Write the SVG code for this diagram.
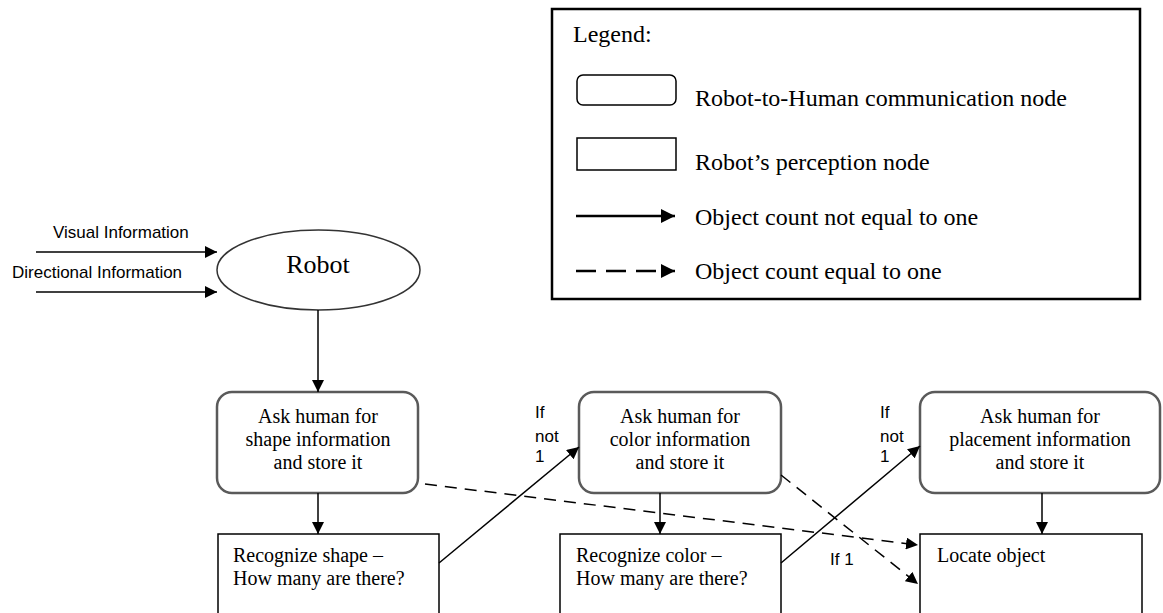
<svg xmlns="http://www.w3.org/2000/svg" width="1163" height="613" viewBox="0 0 1163 613">
  <style>
    .serif { font-family: "Liberation Serif", "Times New Roman", serif; fill: #000; }
    .sans { font-family: "Liberation Sans", Arial, sans-serif; font-size: 17px; fill: #000; }
    .node-text { font-size: 20px; text-anchor: middle; }
    .box-text { font-size: 20px; }
    .legend-text { font-size: 24px; }
    .comm { fill: #fff; stroke: #5a5a5a; stroke-width: 2.5; }
    .percep { fill: #fff; stroke: #000; stroke-width: 1.5; }
    .conn { fill: none; stroke: #000; stroke-width: 1.5; marker-end: url(#arrow); }
    .dashed { stroke-dasharray: 12 8; }
  </style>
  <defs>
    <marker id="arrow" markerUnits="userSpaceOnUse" markerWidth="12" markerHeight="12" refX="12" refY="6" orient="auto">
      <path d="M0,0 L12,6 L0,12 Z" fill="#000"/>
    </marker>
    <marker id="arrow-lg" markerUnits="userSpaceOnUse" markerWidth="14" markerHeight="14" refX="14" refY="7" orient="auto">
      <path d="M0,0 L14,7 L0,14 Z" fill="#000"/>
    </marker>
  </defs>

  <rect width="1163" height="613" fill="#fff"/>

  <!-- Legend -->
  <g id="legend">
    <rect x="552" y="9" width="588" height="290" fill="#fff" stroke="#000" stroke-width="2.5"/>
    <text class="serif legend-text" x="573" y="42">Legend:</text>
    <rect x="577" y="75" width="99" height="30" rx="6" fill="#fff" stroke="#000" stroke-width="1.5"/>
    <text class="serif legend-text" x="695" y="106">Robot-to-Human communication node</text>
    <rect x="577" y="138" width="99" height="32" fill="#fff" stroke="#000" stroke-width="1.5"/>
    <text class="serif legend-text" x="695" y="170">Robot’s perception node</text>
    <line x1="576" y1="216" x2="675" y2="216" stroke="#000" stroke-width="2.5" marker-end="url(#arrow-lg)"/>
    <text class="serif legend-text" x="695" y="225">Object count not equal to one</text>
    <line x1="576" y1="271" x2="675" y2="271" stroke="#000" stroke-width="2.5" stroke-dasharray="20 10" marker-end="url(#arrow-lg)"/>
    <text class="serif legend-text" x="695" y="279">Object count equal to one</text>
  </g>

  <!-- Inputs -->
  <g id="inputs">
    <text class="sans" x="53" y="238">Visual Information</text>
    <text class="sans" x="12" y="278">Directional Information</text>
  </g>

  <!-- Robot -->
  <g id="robot">
    <ellipse cx="318.5" cy="270" rx="101.5" ry="40" fill="#fff" stroke="#333" stroke-width="1.5"/>
    <text class="serif" x="318" y="273" font-size="26" text-anchor="middle">Robot</text>
  </g>

  <!-- Communication nodes -->
  <g id="ask-shape">
    <rect class="comm" x="217" y="392" width="201" height="101" rx="15"/>
    <text class="serif node-text" x="318" y="423">Ask human for</text>
    <text class="serif node-text" x="318" y="446">shape information</text>
    <text class="serif node-text" x="318" y="469">and store it</text>
  </g>
  <g id="ask-color">
    <rect class="comm" x="579" y="392" width="202" height="101" rx="15"/>
    <text class="serif node-text" x="680" y="423">Ask human for</text>
    <text class="serif node-text" x="680" y="446">color information</text>
    <text class="serif node-text" x="680" y="469">and store it</text>
  </g>
  <g id="ask-placement">
    <rect class="comm" x="920" y="392" width="240" height="101" rx="15"/>
    <text class="serif node-text" x="1040" y="423">Ask human for</text>
    <text class="serif node-text" x="1040" y="446">placement information</text>
    <text class="serif node-text" x="1040" y="469">and store it</text>
  </g>

  <!-- Perception nodes -->
  <g id="recognize-shape">
    <rect class="percep" x="218" y="534" width="221" height="110"/>
    <text class="serif box-text" x="233" y="562">Recognize shape –</text>
    <text class="serif box-text" x="233" y="585">How many are there?</text>
  </g>
  <g id="recognize-color">
    <rect class="percep" x="560" y="534" width="221" height="110"/>
    <text class="serif box-text" x="576" y="562">Recognize color –</text>
    <text class="serif box-text" x="576" y="585">How many are there?</text>
  </g>
  <g id="locate-object">
    <rect class="percep" x="920" y="534" width="222" height="110"/>
    <text class="serif box-text" x="937" y="562">Locate object</text>
  </g>

  <!-- Connectors -->
  <g id="connectors">
    <line class="conn" x1="36" y1="252" x2="217" y2="252"/>
    <line class="conn" x1="36" y1="292" x2="217" y2="292"/>
    <line class="conn" x1="318" y1="310" x2="318" y2="392"/>
    <line class="conn" x1="318" y1="493" x2="318" y2="534"/>
    <line class="conn" x1="439" y1="563" x2="579" y2="447"/>
    <line class="conn dashed" x1="425" y1="484" x2="918" y2="545"/>
    <line class="conn" x1="660" y1="493" x2="660" y2="534"/>
    <line class="conn" x1="781" y1="563" x2="920" y2="446"/>
    <line class="conn dashed" x1="781" y1="475" x2="918" y2="584"/>
    <line class="conn" x1="1042" y1="493" x2="1042" y2="534"/>
  </g>

  <!-- Branch labels -->
  <g id="labels">
    <text class="sans" x="535" y="418">If</text>
    <text class="sans" x="535" y="442">not</text>
    <text class="sans" x="535" y="462">1</text>
    <text class="sans" x="880" y="418">If</text>
    <text class="sans" x="880" y="442">not</text>
    <text class="sans" x="880" y="462">1</text>
    <text class="sans" x="830" y="565">If 1</text>
  </g>
</svg>
